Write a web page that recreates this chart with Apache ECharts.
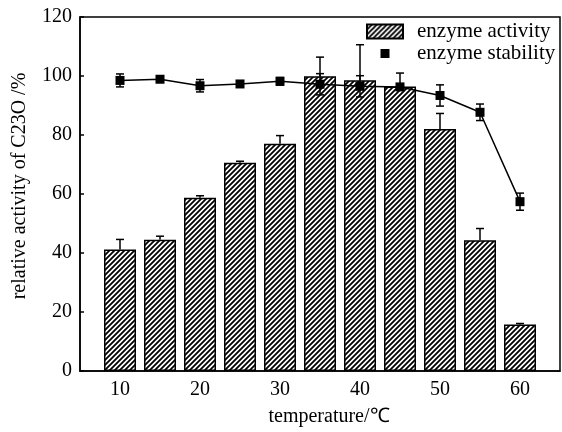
<!DOCTYPE html>
<html>
<head>
<meta charset="utf-8">
<script src="https://cdn.jsdelivr.net/npm/echarts@6/dist/echarts.min.js"></script>
<style>
html, body { margin: 0; padding: 0; background: #fff; }
#chart { width: 562px; height: 432px; }
</style>
</head>
<body>
<div id="chart"></div>
<script>
// temperature (°C) on the x axis
const temps = [10, 15, 20, 25, 30, 35, 40, 45, 50, 55, 60];
const xTicks = [10, 20, 30, 40, 50, 60];

// relative activity (%) with upper error
const activity = [41.2, 44.5, 58.7, 70.6, 77.0, 99.9, 98.6, 96.4, 82.0, 44.3, 15.8];
const activityErr = [3.4, 1.2, 0.7, 0.5, 2.8, 6.5, 12.0, 4.6, 5.3, 4.0, 0.3];

// stability (%) with +/- error
const stability = [98.5, 98.9, 96.7, 97.3, 98.2, 97.2, 96.5, 96.3, 93.4, 87.7, 57.4];
const stabilityErr = [2.2, 0.5, 2.1, 0.6, 1.3, 3.6, 3.6, 0.8, 3.6, 2.8, 2.9];

const font = 'Liberation Serif';

// hatch pattern for the bars
function makeHatch() {
    const s = 5;
    const c = document.createElement('canvas');
    c.width = s; c.height = s;
    const g = c.getContext('2d');
    g.fillStyle = '#fff';
    g.fillRect(0, 0, s, s);
    g.strokeStyle = '#000';
    g.lineWidth = 1.8;
    g.beginPath();
    g.moveTo(-1, s + 1); g.lineTo(s + 1, -1);
    g.moveTo(-1, 1); g.lineTo(1, -1);
    g.moveTo(s - 1, s + 1); g.lineTo(s + 1, s - 1);
    g.stroke();
    return c;
}

function errorBar(bothSides) {
    return function (params, api) {
        const x = api.value(0);
        const lo = api.value(1);
        const hi = api.value(2);
        const p1 = api.coord([x, lo]);
        const p2 = api.coord([x, hi]);
        const w = 4;
        const st = { stroke: '#000', lineWidth: 1.5 };
        const kids = [
            { type: 'line', shape: { x1: p1[0], y1: p1[1], x2: p2[0], y2: p2[1] }, style: st },
            { type: 'line', shape: { x1: p2[0] - w, y1: p2[1], x2: p2[0] + w, y2: p2[1] }, style: st }
        ];
        if (bothSides) {
            kids.push({ type: 'line', shape: { x1: p1[0] - w, y1: p1[1], x2: p1[0] + w, y2: p1[1] }, style: st });
        }
        return { type: 'group', children: kids };
    };
}

const myChart = echarts.init(document.getElementById('chart'));

const option = {
    animation: false,
    textStyle: { fontFamily: font, color: '#000' },
    grid: {
        left: 80, right: 2, top: 17, bottom: 59,
        show: true, borderColor: '#000', borderWidth: 1.5, backgroundColor: 'transparent'
    },
    legend: {
        orient: 'vertical',
        left: 366, top: 21,
        padding: 0,
        itemGap: 1,
        itemWidth: 36, itemHeight: 14,
        textStyle: { fontFamily: font, fontSize: 21, color: '#000', padding: [0, 0, 0, 9] },
        data: [
            { name: 'enzyme activity', icon: 'rect' },
            { name: 'enzyme stability', icon: 'path://M0,0M36,14M13.5,2.5h9v9h-9z' }
        ]
    },
    xAxis: {
        type: 'value',
        min: 5, max: 65,
        name: 'temperature/℃',
        nameLocation: 'middle',
        nameGap: 36,
        nameTextStyle: { fontFamily: font, fontSize: 20, color: '#000', padding: [0, 0, 0, 18] },
        axisLine: { lineStyle: { color: '#000', width: 1.5 } },
        axisTick: { inside: true, length: 4, customValues: xTicks, lineStyle: { color: '#000', width: 1.5 } },
        axisLabel: { customValues: xTicks, margin: 9, fontFamily: font, fontSize: 20, color: '#000' },
        splitLine: { show: false }
    },
    yAxis: {
        type: 'value',
        min: 0, max: 120, interval: 20,
        name: 'relative activity of C23O /%',
        nameLocation: 'middle',
        nameGap: 50,
        nameTextStyle: { fontFamily: font, fontSize: 20, color: '#000', padding: [0, 0, 0, 16] },
        axisLine: { show: true, lineStyle: { color: '#000', width: 1.5 } },
        axisTick: { inside: true, length: 4, lineStyle: { color: '#000', width: 1.5 } },
        axisLabel: { margin: 8, fontFamily: font, fontSize: 20, color: '#000' },
        splitLine: { show: false }
    },
    series: [
        {
            name: 'enzyme activity',
            type: 'bar',
            barWidth: 32,
            data: temps.map((t, i) => [t, activity[i]]),
            itemStyle: {
                color: { image: makeHatch(), repeat: 'repeat' },
                borderColor: '#000',
                borderWidth: 1.5
            },
            z: 2
        },
        {
            name: 'activity error',
            type: 'custom',
            renderItem: errorBar(false),
            data: temps.map((t, i) => [t, activity[i], activity[i] + activityErr[i]]),
            encode: { x: 0, y: [1, 2] },
            z: 3
        },
        {
            name: 'stability error',
            type: 'custom',
            renderItem: errorBar(true),
            data: temps.map((t, i) => [t, stability[i] - stabilityErr[i], stability[i] + stabilityErr[i]]),
            encode: { x: 0, y: [1, 2] },
            z: 4
        },
        {
            name: 'enzyme stability',
            type: 'line',
            data: temps.map((t, i) => [t, stability[i]]),
            symbol: 'rect',
            symbolSize: 9,
            itemStyle: { color: '#000' },
            lineStyle: { color: '#000', width: 1.5 },
            z: 5
        }
    ]
};

option && typeof option === 'object' && myChart.setOption(option, true);
</script>
</body>
</html>
